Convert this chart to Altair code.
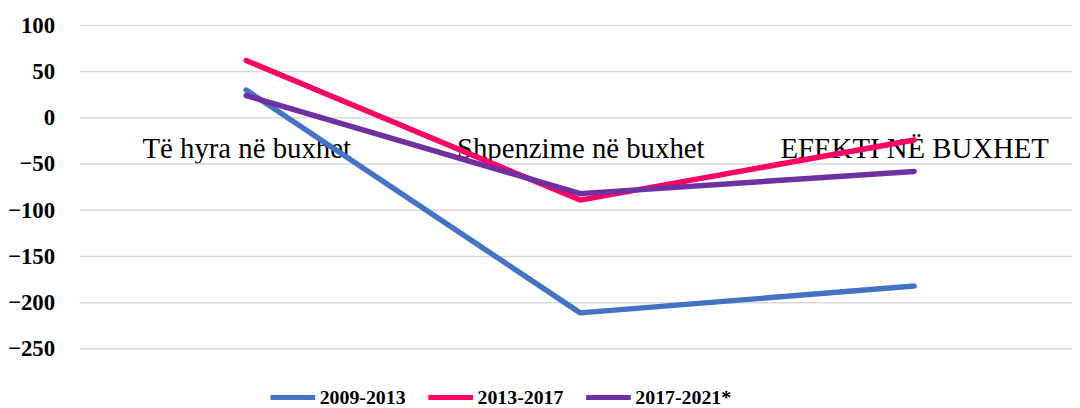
import altair as alt
import pandas as pd

categories = ["Të hyra në buxhet", "Shpenzime në buxhet", "EFEKTI NË BUXHET"]
series_names = ["2009-2013", "2013-2017", "2017-2021*"]
s2009_2013 = [30, -211, -182]
s2013_2017 = [62, -89, -24]
s2017_2021 = [24, -82, -58]
colors = ["#4472C4", "#FF0066", "#7030A0"]
y_ticks = [100, 50, 0, -50, -100, -150, -200, -250]

rows = []
for name, vals in zip(series_names, [s2009_2013, s2013_2017, s2017_2021]):
    for i, (c, v) in enumerate(zip(categories, vals)):
        rows.append({"Kategoria": c, "Vlera": v, "Seria": name, "ord": i})
df = pd.DataFrame(rows)
grid_df = pd.DataFrame({"Vlera": y_ticks})

FONT = "'Liberation Serif', 'Times New Roman', 'DejaVu Serif', serif"

y_scale = alt.Scale(domain=[-250, 100], nice=False)

grid = alt.Chart(grid_df).mark_rule(color="#D9D9D9", strokeWidth=1.5).encode(
    y=alt.Y("Vlera:Q", scale=y_scale,
            axis=alt.Axis(title=None, values=y_ticks, ticks=False, domain=False,
                          labelFont=FONT, labelFontSize=23, labelFontWeight="bold",
                          labelColor="#000000", labelPadding=25, grid=False)),
    x=alt.value(0),
    x2=alt.value(1000),
)

lines = alt.Chart(df).mark_line(strokeWidth=5.5, strokeCap="round", strokeJoin="round").encode(
    x=alt.X("Kategoria:N", sort=categories,
            scale=alt.Scale(range=[168, 841], padding=0),
            axis=alt.Axis(title=None, labelAngle=0, ticks=False, domain=False,
                          offset=-234, labelPadding=41, labelBaseline="alphabetic",
                          labelFont=FONT, labelFontSize=29, labelColor="#000000",
                          labelFontWeight="normal", grid=False, labelLimit=400)),
    y=alt.Y("Vlera:Q", scale=y_scale),
    color=alt.Color("Seria:N", sort=series_names,
                    scale=alt.Scale(domain=series_names, range=colors),
                    legend=alt.Legend(title=None, orient="none", direction="horizontal",
                                      legendX=190, legendY=350, padding=0,
                                      symbolType="stroke", symbolStrokeWidth=5,
                                      symbolSize=2025, columnPadding=12, labelOffset=2,
                                      labelFont=FONT, labelFontSize=20, labelFontWeight="bold",
                                      labelColor="#000000")),
    order=alt.Order("ord:Q"),
)

chart = alt.layer(grid, lines).properties(
    width=1000, height=326,
    autosize=alt.AutoSizeParams(type="none"),
    padding={"left": 72, "top": 16, "right": 0, "bottom": 58},
).configure_view(stroke=None)

chart.save("out.html", embed_options={"renderer": "svg", "actions": False})
